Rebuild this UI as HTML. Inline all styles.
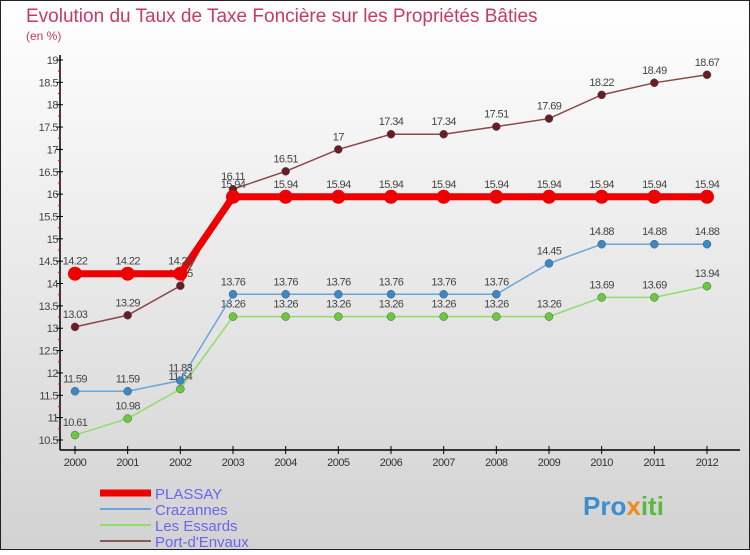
<!DOCTYPE html>
<html><head><meta charset="utf-8"><style>
body{margin:0;width:750px;height:550px;overflow:hidden;font-family:"Liberation Sans",sans-serif}
svg text{font-family:"Liberation Sans",sans-serif}
</style></head><body>
<svg id="c" width="750" height="550">
<defs><linearGradient id="bg" x1="0" y1="0" x2="0" y2="1"><stop offset="0" stop-color="#ffffff"/><stop offset="1" stop-color="#d2d2d2"/></linearGradient></defs>
<rect x="0.5" y="0.5" width="749" height="549" fill="url(#bg)" stroke="#222"/>
<text x="26" y="22" font-size="19" fill="#c8386a">Evolution du Taux de Taxe Foncière sur les Propriétés Bâties</text>
<text x="26" y="40" font-size="12" fill="#c8386a">(en %)</text>
<g id="axes"></g><g id="series"></g><g id="legend"></g>
<text x="583" y="515" font-size="26" font-weight="bold" fill="#3a8fd0">Pro<tspan fill="#f08a1c">x</tspan><tspan fill="#5cb83c">iti</tspan></text>
</svg>
<script>
const years=[2000,2001,2002,2003,2004,2005,2006,2007,2008,2009,2010,2011,2012];
const yTicks=[10.5,11,11.5,12,12.5,13,13.5,14,14.5,15,15.5,16,16.5,17,17.5,18,18.5,19];
const plassay=[14.22,14.22,14.22,15.94,15.94,15.94,15.94,15.94,15.94,15.94,15.94,15.94,15.94];
const crazannes=[11.59,11.59,11.83,13.76,13.76,13.76,13.76,13.76,13.76,14.45,14.88,14.88,14.88];
const essards=[10.61,10.98,11.64,13.26,13.26,13.26,13.26,13.26,13.26,13.26,13.69,13.69,13.94];
const port=[13.03,13.29,13.95,16.11,16.51,17,17.34,17.34,17.51,17.69,18.22,18.49,18.67];
const names=["PLASSAY","Crazannes","Les Essards","Port-d'Envaux"];
const NS="http://www.w3.org/2000/svg";
const X=i=>75+i*(632/12);
const Y=v=>440-(v-10.5)*(380/8.5);
function mk(t,a,p){const e=document.createElementNS(NS,t);for(const k in a)e.setAttribute(k,a[k]);p.appendChild(e);return e;}
const ax=document.getElementById('axes');
let l=mk('line',{x1:60,y1:55,x2:60,y2:450,stroke:'#000','stroke-width':1.5},ax);


l=mk('line',{x1:60,y1:450,x2:740,y2:450,stroke:'#000','stroke-width':1.5},ax);


yTicks.forEach((v,k)=>{const y=Y(v);
 mk('line',{x1:56,y1:y,x2:63,y2:y,stroke:'#000'},ax);
 if(k>0) mk('line',{x1:58,y1:y+(Y(yTicks[k-1])-y)/2,x2:61,y2:y+(Y(yTicks[k-1])-y)/2,stroke:'#e00'},ax);
 const t=mk('text',{x:58,y:y+4,'font-size':11,'text-anchor':'end',fill:'#444','letter-spacing':'-0.5'},ax);t.textContent=String(v);
 
 });
years.forEach((yr,i)=>{mk('line',{x1:X(i),y1:446,x2:X(i),y2:454,stroke:'#000'},ax);
 const t=mk('text',{x:X(i),y:466,'font-size':11,'text-anchor':'middle',fill:'#333','letter-spacing':'-0.5'},ax);t.textContent=yr;
 
 });
const sg=document.getElementById('series');
const defs=[[essards,'#90dd6c','#6cc83c',1.5,4,'les-essards'],[crazannes,'#6aa6d6','#3a88c8',1.5,4,'crazannes'],[port,'#8a4848','#6a1c24',1.5,4,'port-d-envaux'],[plassay,'#ee0000','#ee0000',7,7,'plassay']];
defs.forEach(([d,lc,pc,w,r,nm])=>{
 const p=mk('polyline',{points:d.map((v,i)=>X(i)+','+Y(v)).join(' '),fill:'none',stroke:lc,'stroke-width':w},sg);
 
 
 d.forEach((v,i)=>{const c=mk('circle',{cx:X(i),cy:Y(v),r:r,fill:pc,stroke:nm==='plassay'?'none':'#555','stroke-width':0.5},sg);
  
  
  const t=mk('text',{x:X(i),y:Y(v)-9,'font-size':11,'text-anchor':'middle',fill:'#444','letter-spacing':'-0.6'},sg);t.textContent=String(v);
  
  });});
const lg=document.getElementById('legend');
const lcs=['#ee0000','#6aa6d6','#90dd6c','#8a5a5a'],lw=[7,2,2,2];
names.forEach((n,i)=>{const y=493+i*16;
 const s=mk('line',{x1:100,y1:y,x2:151,y2:y,stroke:lcs[i],'stroke-width':lw[i]},lg);
 
 
 const t=mk('text',{x:155,y:y+6,'font-size':15,fill:'#6666ee'},lg);t.textContent=n;
 
 });
</script>
</body></html>
